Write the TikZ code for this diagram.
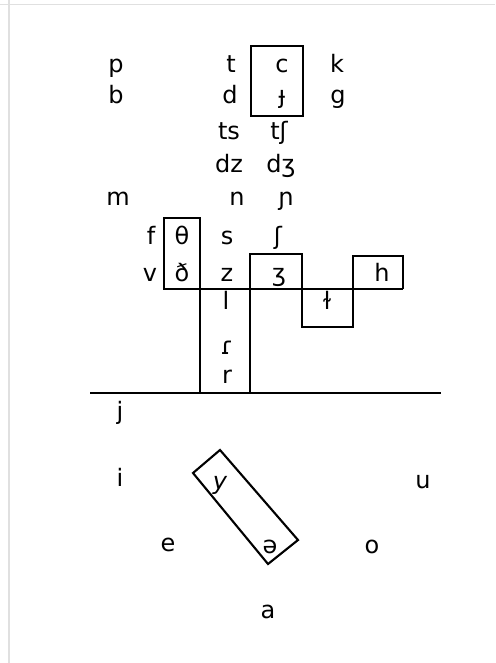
\documentclass[tikz,border=0pt]{standalone}
\usepackage{fontspec}
\setmainfont{DejaVu Sans}
\begin{document}
\begin{tikzpicture}[x=1pt,y=-1pt,
  ph/.style={anchor=base,inner sep=0pt,font=\fontsize{24}{24}\selectfont},
  box/.style={line width=2.1pt,line join=miter},
  frame/.style={black!12,line width=1.5pt}]
\useasboundingbox (0,0) rectangle (495,663);
\draw[frame] (0,4.5) -- (495,4.5);
\draw[frame] (9,0) -- (9,663);
% consonants
\node[ph] (p) at (116,73) {p};
\node[ph] (b) at (116,104) {b};
\node[ph] (t) at (231,73) {t};
\node[ph] (d) at (230,104) {d};
\node[ph] (c) at (282,73) {c};
\node[ph] (jj) at (282,104) {ɟ};
\node[ph] (k) at (337,73) {k};
\node[ph] (g) at (338,104) {g};
\node[ph] (ts) at (229,140) {ts};
\node[ph] (tsh) at (279,140) {tʃ};
\node[ph] (dz) at (229,172) {dz};
\node[ph] (dzh) at (281,172) {dʒ};
\node[ph] (m) at (118,205) {m};
\node[ph] (n) at (237,205) {n};
\node[ph] (ny) at (286,205) {ɲ};
\node[ph] (f) at (151,244) {f};
\node[ph] (th) at (182,244) {θ};
\node[ph] (s) at (227,244) {s};
\node[ph] (sh) at (278,244) {ʃ};
\node[ph] (v) at (150,281) {v};
\node[ph] (dh) at (182,281) {ð};
\node[ph] (z) at (227,281) {z};
\node[ph] (zh) at (279,281) {ʒ};
\node[ph] (h) at (382,281) {h};
\node[ph] (l) at (226,309) {l};
\node[ph] (dl) at (327,309) {ɫ};
\node[ph] (tap) at (227,354) {ɾ};
\node[ph] (r) at (227,383) {r};
\node[ph] (j) at (120,419) {j};
% vowels
\node[ph] (i) at (120,486) {i};
\node[ph] (y) at (220,489) {\itshape y};
\node[ph] (u) at (423,488) {u};
\node[ph] (e) at (168,551) {e};
\node[ph] (schwa) at (270,553) {ə};
\node[ph] (o) at (372,553) {o};
\node[ph] (a) at (268,618) {a};
% boxes and lines
\draw[box] (251,46) rectangle (303,116);
\draw[box] (200,393) -- (200,218) -- (164,218) -- (164,289) -- (403,289);
\draw[box] (250,393) -- (250,254) -- (302,254) -- (302,327) -- (353,327)
  -- (353,256) -- (403,256) -- (403,289);
\draw[box] (90,393) -- (441,393);
\draw[box] (193,473) -- (220,450) -- (298,540) -- (268,564) -- cycle;
\end{tikzpicture}
\end{document}
